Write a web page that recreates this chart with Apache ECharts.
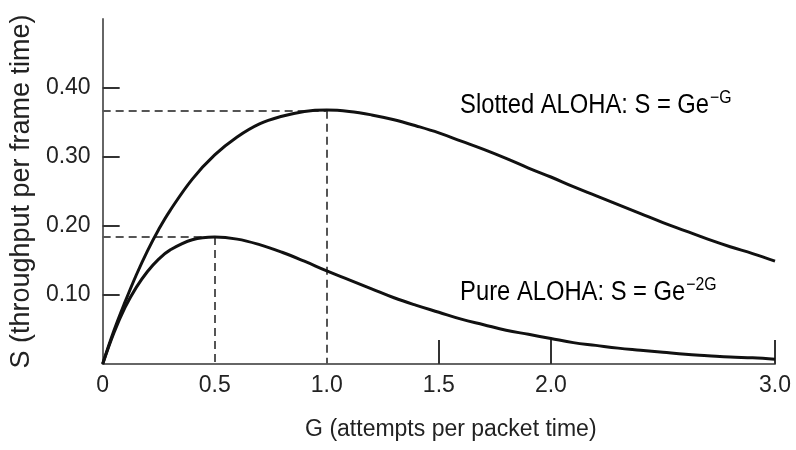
<!DOCTYPE html>
<html><head><meta charset="utf-8">
<script src="https://cdn.jsdelivr.net/npm/echarts@6/dist/echarts.min.js"></script>
<style>html,body{margin:0;padding:0;background:#fff}#c{width:796px;height:450px}</style>
</head><body><div id="c"></div>
<script>
const G = [0,0.05,0.1,0.15,0.2,0.25,0.3,0.4,0.5,0.6,0.7,0.8,0.9,1.0,1.1,1.2,1.3,1.4,1.5,1.6,1.7,1.8,1.9,2.0,2.1,2.2,2.3,2.4,2.5,2.6,2.7,2.8,2.9,3.0];
const slotted = [0,0.048,0.090,0.129,0.164,0.195,0.222,0.268,0.303,0.329,0.348,0.359,0.366,0.368,0.366,0.361,0.354,0.345,0.335,0.323,0.311,0.298,0.284,0.271,0.257,0.244,0.231,0.218,0.205,0.193,0.181,0.170,0.160,0.149];
const pure = [0,0.045,0.082,0.111,0.134,0.152,0.165,0.180,0.184,0.181,0.173,0.162,0.149,0.135,0.122,0.109,0.096,0.085,0.075,0.065,0.057,0.049,0.043,0.037,0.031,0.027,0.023,0.020,0.017,0.014,0.012,0.010,0.009,0.007];
const xLabelValues = [0,0.5,1.0,1.5,2.0,3.0];
const xTickValues = [1.5,2.0,3.0];
const yTickValues = [0.1,0.2,0.3,0.4];
const slottedPeak = [1.0,0.367];
const purePeak = [0.5,0.184];
const slottedText = ['Slotted ALOHA: S = Ge','\u2212G'];
const pureText = ['Pure ALOHA: S = Ge','\u22122G'];
const slottedTextAt = [1.595,0.3765];
const pureTextAt = [1.595,0.106];

const chart = echarts.init(document.getElementById('c'));
const font = 'Liberation Sans, Arial, sans-serif';
const dash = {type:[8,5], color:'#555', width:2};
function peakLines(p){
  return [
    [{coord:[0,p[1]]},{coord:[p[0],p[1]]}],
    [{coord:[p[0],p[1]]},{coord:[p[0],0]}]
  ];
}
chart.setOption({
  animation:false,
  backgroundColor:'#fff',
  grid:{left:98,right:21,top:19,bottom:86},
  xAxis:{type:'value',min:0,max:3,interval:0.5,
    name:'G (attempts per packet time)',nameLocation:'middle',nameGap:54,
    nameTextStyle:{fontFamily:font,fontSize:23,color:'#222',padding:[0,0,0,24]},
    axisLine:{show:true,onZero:false,lineStyle:{color:'#666',width:2}},
    axisTick:{show:true,inside:true,length:24,customValues:xTickValues,lineStyle:{color:'#333',width:2}},
    axisLabel:{customValues:xLabelValues,margin:10,fontFamily:font,fontSize:23,color:'#222',
      formatter:v=> v===0?'0':v.toFixed(1)},
    splitLine:{show:false}},
  yAxis:{type:'value',min:0,max:0.5,interval:0.1,
    name:'S (throughput per frame time)',nameLocation:'middle',nameGap:66,
    nameTextStyle:{fontFamily:font,fontSize:27,color:'#222'},
    axisLine:{show:true,onZero:false,lineStyle:{color:'#666',width:2}},
    axisTick:{show:true,inside:true,length:17,customValues:yTickValues,lineStyle:{color:'#333',width:2}},
    axisLabel:{customValues:yTickValues,margin:12,fontFamily:font,fontSize:23,color:'#222',
      formatter:v=>v.toFixed(2)},
    splitLine:{show:false}},
  series:[
    {type:'line',data:G.map((g,i)=>[g,slotted[i]]),smooth:0.4,symbol:'none',z:3,
     lineStyle:{color:'#111',width:3},
     markLine:{silent:true,symbol:'none',label:{show:false},lineStyle:dash,data:peakLines(slottedPeak),z:2}},
    {type:'line',data:G.map((g,i)=>[g,pure[i]]),smooth:0.4,symbol:'none',z:3,
     lineStyle:{color:'#111',width:3},
     markLine:{silent:true,symbol:'none',label:{show:false},lineStyle:dash,data:peakLines(purePeak),z:2}}
  ]
});
function ann(t,at){
  const p = chart.convertToPixel({gridIndex:0},at);
  return {type:'text',x:p[0],y:p[1],scaleX:0.88,silent:true,
    style:{text:'{m|'+t[0]+'}{s|'+t[1]+'}',verticalAlign:'middle',align:'left',
      rich:{m:{fontFamily:font,fontSize:27,color:'#222',lineHeight:30,verticalAlign:'bottom'},
            s:{fontFamily:font,fontSize:18,color:'#222',lineHeight:30,verticalAlign:'top',padding:[0,0,0,1]}}}};
}
chart.setOption({graphic:[ann(slottedText,slottedTextAt),ann(pureText,pureTextAt)]});
</script></body></html>
